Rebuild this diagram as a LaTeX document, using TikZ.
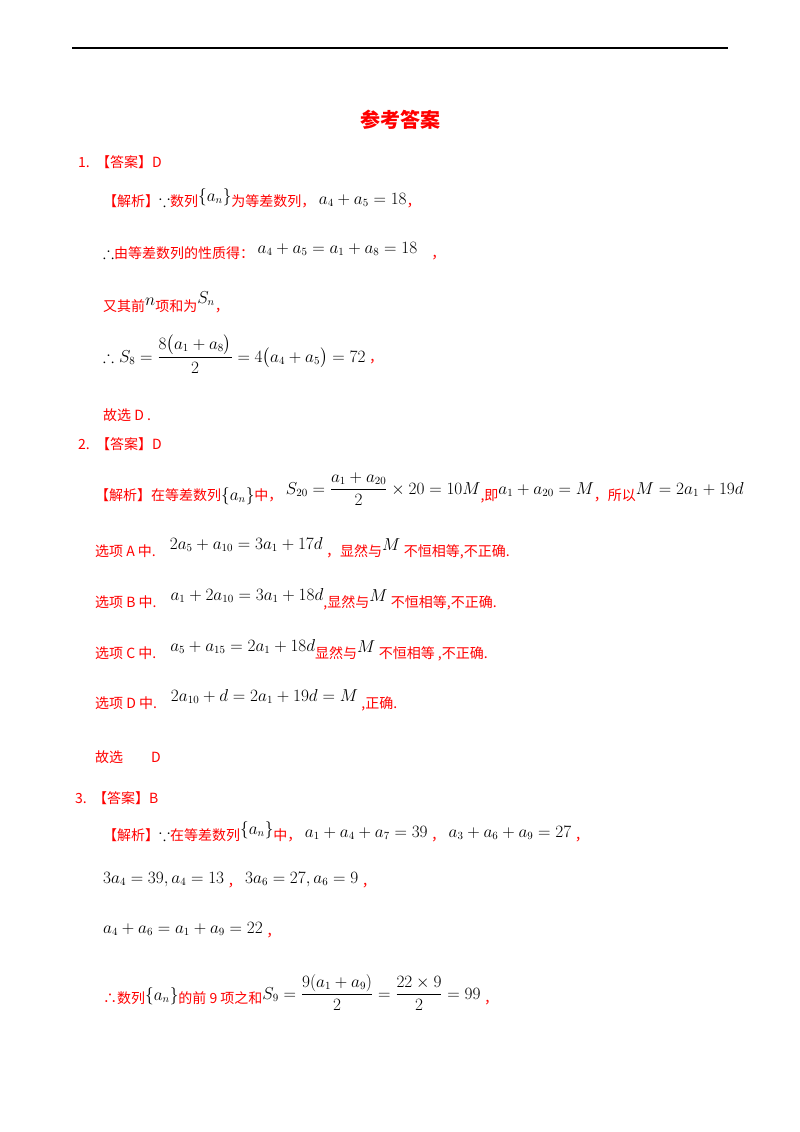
\documentclass[tikz,border=0pt]{standalone}
\usepackage{amsmath,amssymb}
\usepackage{fontspec}
\setmainfont{Liberation Serif}
\newfontfamily\cjk{Noto Sans CJK SC}
\DeclareMathSizes{14}{16.5}{11}{9}
\newcommand{\rt}[1]{{\color{red}\cjk #1}}
\begin{document}
\begin{tikzpicture}[x=1pt,y=-1pt,
  ln/.style={anchor=base west,inner sep=0pt,font=\fontsize{14}{16}\selectfont}]
\useasboundingbox (0,0) rectangle (800,1132);
\fill[white] (0,0) rectangle (800,1132);
\draw[line width=1.5pt] (72,48) -- (728,48);
\node[anchor=base,inner sep=0pt,font=\fontsize{20}{22}\selectfont\bfseries] (title) at (400,127) {\rt{参考答案}};
% Q1
\node[ln] (q1) at (78,167) {\rt{1.\ \ 【答案】D}};
\node[ln] (q1a) at (103,206) {\rt{【解析】}$\because$\rt{数列}\raisebox{5pt}{$\{a_n\}$}\rt{为等差数列，}\ \raisebox{2pt}{$a_4+a_5=18$}\rt{，}};
\node[ln] (q1b) at (103,258) {$\therefore$\rt{由等差数列的性质得：}\ \raisebox{5pt}{$a_4+a_5=a_1+a_8=18$}\quad\rt{，}};
\node[ln] (q1c) at (103,311) {\rt{又其前}\raisebox{6pt}{$n$}\rt{项和为}\raisebox{8pt}{$S_n$}\rt{，}};
\node[ln] (q1d) at (103,362) {$\therefore S_8=\dfrac{8\bigl(a_1+a_8\bigr)}{2}=4\bigl(a_4+a_5\bigr)=72$\ \rt{，}};
\node[ln] (q1e) at (103,420) {\rt{故选 D .}};
% Q2
\node[ln] (q2) at (78,449) {\rt{2.\ \ 【答案】D}};
\node[ln] (q2a) at (95,500) {\rt{【解析】在等差数列}$\{a_n\}$\rt{中，}\ \raisebox{6pt}{$S_{20}=\dfrac{a_1+a_{20}}{2}\times20=10M$}\rt{,即}\raisebox{6pt}{$a_1+a_{20}=M$}\rt{，所以}\raisebox{6pt}{$M=2a_1+19d$}};
\node[ln] (q2b) at (95,556) {\rt{选项 A 中.}\quad\raisebox{7pt}{$2a_5+a_{10}=3a_1+17d$}\ \rt{，显然与}\raisebox{6pt}{$M$}\ \rt{不恒相等,不正确.}};
\node[ln] (q2c) at (95,607) {\rt{选项 B 中.}\quad\raisebox{7pt}{$a_1+2a_{10}=3a_1+18d$}\rt{,显然与}\raisebox{6pt}{$M$}\ \rt{不恒相等,不正确.}};
\node[ln] (q2d) at (95,658) {\rt{选项 C 中.}\quad\raisebox{7pt}{$a_5+a_{15}=2a_1+18d$}\rt{显然与}\raisebox{6pt}{$M$}\ \rt{不恒相等 ,不正确.}};
\node[ln] (q2e) at (95,708) {\rt{选项 D 中.}\quad\raisebox{7pt}{$2a_{10}+d=2a_1+19d=M$}\ \rt{,正确.}};
\node[ln] (q2f) at (95,762) {\rt{故选\qquad D}};
% Q3
\node[ln] (q3) at (75,803) {\rt{3.\ \ 【答案】B}};
\node[ln] (q3a) at (103,840) {\rt{【解析】}$\because$\rt{在等差数列}\raisebox{6pt}{$\{a_n\}$}\rt{中，}\ \raisebox{3pt}{$a_1+a_4+a_7=39$}\ \rt{，}\ \raisebox{3pt}{$a_3+a_6+a_9=27$}\ \rt{，}};
\node[ln] (q3b) at (103,886) {\raisebox{3pt}{$3a_4=39,a_4=13$}\ \rt{，}\ \raisebox{3pt}{$3a_6=27,a_6=9$}\ \rt{，}};
\node[ln] (q3c) at (103,936) {\raisebox{3pt}{$a_4+a_6=a_1+a_9=22$}\ \rt{，}};
\node[ln] (q3d) at (103,1003) {\rt{∴数列}\raisebox{3pt}{$\{a_n\}$}\rt{的前 9 项之和}\raisebox{4pt}{$S_9=\dfrac{9(a_1+a_9)}{2}=\dfrac{22\times9}{2}=99$}\ \rt{，}};
\end{tikzpicture}
\end{document}
